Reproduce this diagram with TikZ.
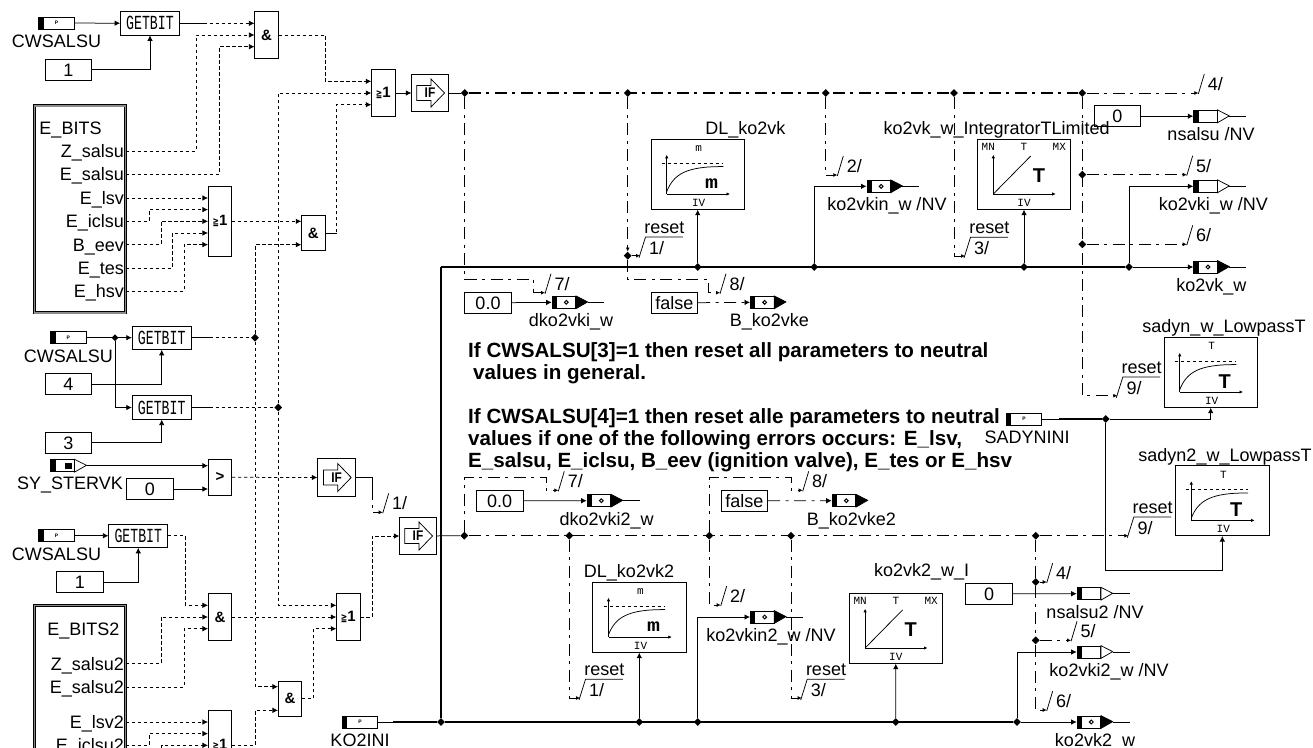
\documentclass[tikz,border=0pt]{standalone}
\usepackage{fontspec}
\usepackage{graphicx}
\usepackage{xcolor}
\usepackage{tikz}
\usetikzlibrary{shapes.geometric, arrows.meta, positioning}
\setmainfont{Liberation Sans}
\setmonofont{Liberation Mono}
\newfontfamily\symfont{DejaVu Sans}

% text in the small block labels
\newcommand{\gbtxt}{\scalebox{.66}[1]{\fontsize{20}{20}\selectfont\ttfamily GETBIT}}
\newcommand{\getxt}{{\symfont\bfseries\scalebox{.7}[1]{\fontsize{11}{11}\selectfont ≧}}{\fontsize{15}{15}\selectfont 1}}
\newcommand{\vfont}{\fontsize{11}{11}\selectfont\ttfamily}
\newcommand{\bigmm}{\scalebox{1.2}[1]{\fontsize{18}{18}\selectfont\ttfamily\bfseries m}}
\newcommand{\bigtt}{\fontsize{20}{20}\selectfont\bfseries T}

% input message with its name below
\newcommand{\inmsg}[5][0pt]{
  \node[par] (#2) at (#3,#4) {\fontsize{5}{5}\selectfont\bfseries P};
  \node[lbl, below=5pt of #2, xshift=#1] (#2l) {#5};
}
% output message: fill, tail length, name, x, y, label, label x
\newcommand{\outmsg}[7]{
  \node[out#1] (#3) at (#4,#5) {};
  \filldraw[wire, fill=#1] (#3.north east) -- ++(11.7,6) -- (#3.south east) -- cycle;
  \draw[wire] (#3.east) ++(11.7,0) -- ++(#2,0);
  \node[lbl] (#3l) at (#7,#5+18) {#6};
}
% IF block
\newcommand{\ifblk}[4][36.6]{
  \node[draw, wire, minimum size=#1, inner sep=0] (#2) at (#3,#4) {};
  \draw[wire] (#2.center) ++(-13.3,-7.5) -- ++(14.3,0) -- ++(0,-6.5) -- ++(13.5,14) -- ++(-13.5,14) -- ++(0,-6.5) -- ++(-14.3,0) -- cycle;
  \node[font=\bfseries\fontsize{14}{14}\selectfont, inner sep=0] (#2t) at (#2.center) {\scalebox{.85}[1]{IF}};
}
% bus mark ending a signal: name, x, y, number
\newcommand{\brk}[4]{
  \coordinate (#1) at (#2,#3);
  \draw[wire] (#1) ++(0,1) -- ++(6,-20);
  \node[lbl] (#1l) at (#2+17,#3-9) {#4/};
}
% the same with the reset text
\newcommand{\rbrk}[4]{
  \coordinate (#1) at (#2,#3);
  \draw[wire] (#1) ++(-1,2) -- ++(6.5,-20.7) -- ++(37.3,0);
  \node[lbl] (#1r) at (#2+24.3,#3-28.7) {reset};
  \node[lbl] (#1l) at (#2+16.7,#3-7.7) {#4/};
}
% lowpass block: name, x, y, top, big, title, title x
\newcommand{\lowblk}[7]{
  \node[blk] (#1) at (#2,#3) {};
  \node[lbl] (#1n) at (#7,#3-46) {#6};
  \begin{scope}[shift={(#1.center)}]
    \draw[wire, -{Latex[length=3.5pt,width=3.5pt]}] (-31,19.7) -- (-31,-19.5);
    \draw[wire, -{Latex[length=3.5pt,width=3.5pt]}] (-31,19.7) -- (32.3,19.7);
    \draw[wire, dashed] (-36,-11.3) -- (25.7,-11.3);
    \draw[wire] (-31,17.3) .. controls (-24,0) and (-12,-8) .. (25.7,-7.7);
    \node[inner sep=0, font=\vfont] (#1a) at (1,-26) {#4};
    \node[inner sep=0] (#1b) at (14,9) {#5};
    \node[inner sep=0, font=\vfont] (#1c) at (1,28.3) {IV};
  \end{scope}
}
% integrator block: name, x, y, title, title x, title y
\newcommand{\intblk}[6]{
  \node[blk] (#1) at (#2,#3) {};
  \node[lbl] (#1n) at (#5,#6) {#4};
  \begin{scope}[shift={(#1.center)}]
    \draw[wire, -{Latex[length=3.5pt,width=3.5pt]}] (-30.7,19.7) -- (-30.7,-19.5);
    \draw[wire, -{Latex[length=3.5pt,width=3.5pt]}] (-30.7,19.7) -- (31.7,19.7);
    \draw[wire] (-30.7,19.7) -- (6.7,-18.3);
    \node[inner sep=0, font=\vfont] (#1a) at (-35.7,-27.7) {MN};
    \node[inner sep=0, font=\vfont] (#1b) at (0,-27.7) {T};
    \node[inner sep=0, font=\vfont] (#1c) at (35.3,-27.7) {MX};
    \node[inner sep=0] (#1d) at (15,1.7) {\bigtt};
    \node[inner sep=0, font=\vfont] (#1e) at (0,28.3) {IV};
  \end{scope}
}

\begin{document}
\begin{tikzpicture}[
  x=1pt, y=-1pt, font=\fontsize{18}{22}\selectfont,
  wire/.style={line width=.75pt},
  arr/.style={wire, -{Latex[length=5.5pt,width=5.5pt]}},
  dsh/.style={arr, dash pattern=on 3.3pt off 2.7pt},
  dd/.style={wire, dash pattern=on 12pt off 5.5pt on 3pt off 5.5pt},
  dda/.style={dd, -{Latex[length=4pt,width=4pt]}},
  busd/.style={dd, line width=1.5pt},
  bus/.style={line width=1.7pt},
  lbl/.style={inner sep=0, text height=13pt, text depth=0pt},
  const/.style={draw, wire, inner sep=0, minimum width=46.7, minimum height=21, text height=13pt, text depth=0pt},
  gb/.style={draw, wire, inner sep=0, minimum width=59, minimum height=23.4},
  gate/.style={draw, wire, inner sep=0, minimum width=23.3, font=\bfseries\fontsize{15}{15}\selectfont},
  par/.style={draw, wire, inner sep=0, minimum width=35.5, minimum height=12,
    path picture={\fill (path picture bounding box.south west) rectangle ([xshift=5pt]path picture bounding box.north west);}},
  outwhite/.style={draw, wire, anchor=west, inner sep=0, minimum width=23.5, minimum height=12,
    path picture={\fill (path picture bounding box.south west) rectangle ([xshift=5pt]path picture bounding box.north west);}},
  outblack/.style={outwhite,
    path picture={\fill (path picture bounding box.south west) rectangle ([xshift=5pt]path picture bounding box.north west);
      \draw[line width=1pt] ([xshift=2.5pt]path picture bounding box.center) circle (1.9);}},
  blk/.style={draw, wire, inner sep=0, minimum width=93.3, minimum height=70},
  ebox/.style={draw, wire, double=black!45, double distance=1.4pt, inner sep=0, minimum width=91},
  jn/.style={diamond, fill=black, inner sep=0, minimum size=8},
  note/.style={inner sep=0, anchor=north west, align=left, font=\bfseries\fontsize{20.6}{22}\selectfont}]

  \clip (0,0) rectangle (1313,747);

  % first GETBIT row
  \inmsg{cwa}{56.5}{23}{CWSALSU}
  \node[gb] (gba) at (150,23.3) {\gbtxt};
  \node[const] (ca) at (68.3,69.8) {1};
  \node[gate, minimum height=46.6] (anda) at (266.5,35) {\&};
  \node[gate, minimum height=46.6] (gea) at (383.3,93) {\getxt};
  \ifblk{ifa}{430}{93}
  \draw[arr] (cwa) -- (gba);
  \draw[arr] (ca) -| (gba);
  \draw[dsh] (gba.east) -- ([yshift=11.7pt]anda.west);
  \draw[wire] (gba.east) -- ++(24,0);

  % error bits
  \node[ebox, minimum height=207] (ebits) at (80,209.3) {};
  \node[lbl] (ebt) at (70.5,128.3) {E\_BITS};
  \node[lbl, anchor=east] (zs) at (124,151) {Z\_salsu};
  \node[lbl, anchor=east] (es) at (124,174.3) {E\_salsu};
  \node[lbl, anchor=east] (el) at (124,198) {E\_lsv};
  \node[lbl, anchor=east] (ei) at (124,221.3) {E\_iclsu};
  \node[lbl, anchor=east] (be) at (124,244.7) {B\_eev};
  \node[lbl, anchor=east] (et) at (124,268) {E\_tes};
  \node[lbl, anchor=east] (eh) at (124,291) {E\_hsv};

  \node[gate, minimum height=70] (geb) at (220,221.3) {\getxt};
  \node[gate, minimum height=34.6] (andb) at (313.3,233) {\&};

  \draw[dsh] (ebits.east |- zs) -- ++(70,0) |- (anda.west);
  \draw[dsh] (ebits.east |- es) -- ++(93.3,0) |- ([yshift=-11.7pt]anda.west);
  \draw[dsh] (ebits.east |- el) -- ([yshift=23.3pt]geb.west);
  \draw[dsh] (ebits.east |- ei) -- ++(23.3,0) |- ([yshift=11.7pt]geb.west);
  \draw[dsh] (ebits.east |- be) -- ++(35,0) |- (geb.west);
  \draw[dsh] (ebits.east |- et) -- ++(46.6,0) |- ([yshift=-11.7pt]geb.west);
  \draw[dsh] (ebits.east |- eh) -- ++(58.3,0) |- ([yshift=-23.3pt]geb.west);
  \draw[dsh] (geb.east) -- ([yshift=11.7pt]andb.west);

  \draw[dsh] (anda.east) -- ++(46.7,0) |- ([yshift=11.7pt]gea.west);
  \draw[wire] (andb.east) -- ++(11.4,0);
  \draw[dsh] (andb.east) -- ++(11.4,0) |- ([yshift=-11.7pt]gea.west);
  \draw[arr] (gea) -- (ifa);

  % GETBIT pair and compare
  \inmsg{cwb}{68.3}{337.7}{CWSALSU}
  \node[jn, minimum size=7] (jcw) at (115,337.7) {};
  \node[gb] (gbb) at (161.7,337.7) {\gbtxt};
  \node[gb] (gbc) at (161.7,407.5) {\gbtxt};
  \node[const] (cb) at (68.3,384.2) {4};
  \node[const] (cc) at (68.3,442.5) {3};
  \node[jn] (jb) at (255,337.7) {};
  \node[jn] (jc) at (278.3,407.5) {};
  \draw[arr] (cwb) -- (gbb);
  \draw[arr] (jcw) |- (gbc);
  \draw[arr] (cb) -| (gbb);
  \draw[arr] (cc) -| (gbc);
  \draw[dsh, -] (gbb) -- (jb);
  \draw[dsh, -] (gbc) -- (jc);
  \draw[wire] (gbb.east) -- ++(20,0);
  \draw[wire] (gbc.east) -- ++(20,0);
  \draw[dsh] (jb) |- ([yshift=-11.7pt]andb.west);
  \draw[dsh] (jc) |- (gea.west);

  \node[par, minimum width=23.5] (syb) at (62.4,465.7) {};
  \filldraw[wire, fill=white] (syb.north east) -- ++(12,6) -- (syb.south east) -- cycle;
  \fill ([xshift=3pt,yshift=-3.5pt]syb.north) rectangle ([xshift=10pt,yshift=3.5pt]syb.south);
  \node[lbl] (sybl) at (70,482.7) {SY\_STERVK};
  \node[const] (cd) at (150,489) {0};
  \node[gate, minimum height=35.3] (gt) at (220,477.3) {>};
  \ifblk[38]{ifb}{336.7}{477.5}
  \draw[arr] (syb.east) ++(12,0) -- ([yshift=11.6pt]gt.west);
  \draw[arr] (cd) -- ([yshift=-11.7pt]gt.west);
  \draw[dsh] (gt) -- (ifb);

  % second channel
  \inmsg{cwc}{56.5}{535.7}{CWSALSU}
  \node[gb] (gbd) at (138.3,535.7) {\gbtxt};
  \node[const] (ce) at (80,582.2) {1};
  \node[gate, minimum height=46.6] (andc) at (220,617) {\&};
  \node[gate, minimum height=46.6] (gec) at (348.3,617) {\getxt};
  \node[gate, minimum height=35] (andd) at (290,698.8) {\&};
  \ifblk{ifc}{418}{536}
  \draw[arr] (cwc) -- (gbd);
  \draw[arr] (ce) -| (gbd);
  \draw[dsh] (gbd.east) -- ++(17.3,0) |- ([yshift=11.7pt]andc.west);
  \draw[dsh] (andc) -- (gec);
  \draw[dsh] (jc) |- ([yshift=11.7pt]gec.west);
  \draw[dsh] (jb) |- ([yshift=12.1pt]andd.west);
  \draw[dsh] (andd.east) -- ++(11.6,0) |- ([yshift=-11.7pt]gec.west);
  \draw[dsh] (gec.east) -- ++(11.7,0) |- (ifc.west);

  \node[ebox, minimum height=180] (ebitsb) at (80,695.3) {};
  \node[lbl] (ebtb) at (83.3,629.3) {E\_BITS2};
  \node[lbl, anchor=east] (zsb) at (124,663.7) {Z\_salsu2};
  \node[lbl, anchor=east] (esb) at (124,687) {E\_salsu2};
  \node[lbl, anchor=east] (elb) at (124,722) {E\_lsv2};
  \node[lbl, anchor=east] (eib) at (124,745.3) {E\_iclsu2};
  \node[gate, minimum height=70] (ged) at (220,745.3) {\getxt};
  \coordinate (belowb) at (161.7,760);
  \draw[dsh] (ebitsb.east |- zsb) -- ++(35,0) |- (andc.west);
  \draw[dsh] (ebitsb.east |- esb) -- ++(58.3,0) |- ([yshift=-11.7pt]andc.west);
  \draw[dsh] (ebitsb.east |- elb) -- ([yshift=23.3pt]ged.west);
  \draw[dsh] (ebitsb.east |- eib) -- ++(23.3,0) |- ([yshift=11.7pt]ged.west);
  \draw[dsh] (belowb) |- (ged.west);
  \draw[dsh] (ged.east) -- ++(23.3,0) |- ([yshift=-11.5pt]andd.west);

  \brk{tifb}{382.7}{512.3}{1}
  \draw[wire] (ifb.east) -- ++(16,0) -- ++(0,12);
  \draw[dda] (ifb.east) -- ++(16,0) |- (tifb);

  % lower and upper bus
  \inmsg{koi}{360}{722}{KO2INI}
  \node[jn] (jbus) at (441,722) {};
  \coordinate (busa) at (441,267);
  \draw[wire] (koi) -- (jbus);
  \draw[bus] ([xshift=15pt]koi.east) -- (jbus);
  \draw[bus] (jbus) -- (busa);
  \node[jn] (ja) at (697.7,267) {};
  \node[jn] (jd) at (814.3,267) {};
  \node[jn] (je) at (1024,267) {};
  \node[jn] (jf) at (1129,267) {};
  \draw[bus] (busa) -- (jf);

  % upper reset line
  \node[jn] (r1) at (464.7,93) {};
  \node[jn] (r2) at (627.7,93) {};
  \node[jn] (r3) at (825.7,93) {};
  \node[jn] (r4) at (954,93) {};
  \node[jn] (r5) at (1082.3,93) {};
  \node[jn] (r6) at (627.7,255.7) {};
  \node[jn] (r7) at (1082.3,174.7) {};
  \node[jn] (r8) at (1082.3,244.3) {};
  \draw[wire] (ifa) -- (r1);
  \draw[busd] (r1) -- (r5);

  \brk{t7}{545}{292.7}{7}
  \brk{t8}{720}{292.7}{8}
  \brk{t2}{837.3}{175}{2}
  \brk{t4}{1198.3}{93}{4}
  \brk{t5}{1186.7}{174.7}{5}
  \brk{t6}{1186.7}{244.3}{6}
  \rbrk{t1}{640}{255.7}{1}
  \rbrk{t3}{965}{256}{3}
  \rbrk{t9}{1117.3}{395.7}{9}
  \draw[dda] (r1) |- (533.3,279.3) |- (t7);
  \draw[dda] (r2) -- (r6);
  \draw[dda] (r6) -- (t1);
  \draw[dda] (r6) |- (708.3,279.3) |- (t8);
  \draw[dda] (r3) |- (t2);
  \draw[dda] (r4) |- (t3);
  \draw[dda] (r5) -- (t4);
  \draw[dda] (r5) |- (t9);
  \draw[dda] (r7) -- (t5);
  \draw[dda] (r8) -- (t6);

  % upper blocks and outputs
  \lowblk{dla}{697.7}{174.3}{m}{\bigmm}{DL\_ko2vk}{745.3}
  \intblk{inta}{1024}{174.3}{ko2vk\_w\_IntegratorTLimited}{996.7}{128.3}
  \draw[arr] (ja) -- (dla);
  \draw[arr] (je) -- (inta);

  \node[const] (cf) at (488,302.8) {0.0};
  \outmsg{black}{16}{da}{551.7}{302.3}{dko2vki\_w}{571}
  \draw[arr] (cf) -- (da);
  \node[const] (cg) at (674.3,302.8) {false};
  \outmsg{black}{0}{db}{750}{302.3}{B\_ko2vke}{769.3}
  \draw[dda, -{Latex[length=5.5pt,width=5.5pt]}] (cg) -- (db);
  \outmsg{black}{17}{dc}{866.5}{186.3}{ko2vkin\_w /NV}{887}
  \draw[arr] (jd) |- (dc);
  \node[const] (ch) at (1117.3,116.2) {0};
  \outmsg{white}{17}{dd}{1193.3}{116.3}{nsalsu /NV}{1211}
  \draw[arr] (ch.east) -- (dd.west |- ch.east);
  \outmsg{white}{17}{de}{1193.3}{186.3}{ko2vki\_w /NV}{1213.3}
  \draw[arr] (jf) |- (de);
  \outmsg{black}{17}{df}{1193.3}{267}{ko2vk\_w}{1211.3}
  \draw[arr] (jf) -- (df);

  % notes
  \node[note] (nta) at (468,342) {If CWSALSU[3]=1 then reset all parameters to neutral\\\hspace*{5pt}values in general.};
  \node[note] (ntb) at (468,408) {If CWSALSU[4]=1 then reset alle parameters to neutral\\values if one of the following errors occurs: E\_lsv,\\E\_salsu, E\_iclsu, B\_eev (ignition valve), E\_tes or E\_hsv};

  % sadyn blocks
  \inmsg[3pt]{sdi}{1024}{419}{SADYNINI}
  \node[jn] (js) at (1105.7,419) {};
  \lowblk{sda}{1210.7}{372.3}{T}{\bigtt}{sadyn\_w\_LowpassT}{1224}
  \lowblk{sdb}{1222.3}{500.7}{T}{\bigtt}{sadyn2\_w\_LowpassT}{1225}
  \draw[wire] (sdi) -- (js);
  \draw[bus] ([xshift=17pt]sdi.east) -- (js);
  \draw[arr] (js) -| (sda);
  \draw[arr] (js) |- (1222.3,570) -- (sdb);

  % lower reset line
  \node[jn] (s1) at (464.3,535.7) {};
  \node[jn] (s2) at (569.3,535.7) {};
  \node[jn] (s3) at (709.3,535.7) {};
  \node[jn] (s4) at (791,535.7) {};
  \node[jn] (s5) at (1035.7,535.7) {};
  \node[jn] (s6) at (1035.7,582) {};
  \node[jn] (s7) at (1035.7,640.3) {};
  \draw[wire] (ifc) -- (s1);
  \draw[busd] (s1) -- (s5);

  \brk{u7}{558.3}{490.3}{7}
  \brk{u8}{802.7}{490.3}{8}
  \brk{u2}{720.7}{605}{2}
  \brk{u4}{1046.7}{582}{4}
  \brk{u5}{1071}{640.3}{5}
  \brk{u6}{1046.7}{710}{6}
  \rbrk{u1}{580}{698}{1}
  \rbrk{u3}{801.7}{698}{3}
  \rbrk{u9}{1128.3}{535.7}{9}
  \draw[dda] (s1) |- (546,477) |- (u7);
  \draw[dda] (s3) |- (791,477) |- (u8);
  \draw[dda] (s2) |- (u1);
  \draw[dda] (s3) |- (u2);
  \draw[dda] (s4) |- (u3);
  \draw[dda] (s5) -- (u9);
  \draw[dd, line width=1.2pt] (s5) -- (s6);
  \draw[dda] (s6) -- (u4);
  \draw[dd] (s6) -- (s7);
  \draw[dda] (s7) -- (u5);
  \draw[dda] (s7) |- (u6);

  % lower blocks and outputs
  \node[jn] (ka) at (639.3,722) {};
  \node[jn] (kb) at (697.7,722) {};
  \node[jn] (kc) at (895.7,722) {};
  \node[jn] (kd) at (1017,722) {};
  \draw[bus] (jbus) -- (kd);
  \lowblk{dlb}{639.5}{617.3}{m}{\bigmm}{DL\_ko2vk2}{629}
  \intblk{intb}{895.8}{628.3}{ko2vk2\_w\_I}{921.7}{570}
  \draw[arr] (ka) -- (dlb.south -| ka);
  \draw[arr] (kc) -- (intb);

  \node[const] (ci) at (499.7,500.8) {0.0};
  \outmsg{black}{17}{ea}{586.7}{500.7}{dko2vki2\_w}{606.7}
  \draw[arr] (ci) -- (ea);
  \node[const] (cj) at (744.3,500.8) {false};
  \outmsg{black}{0}{eb}{831.7}{500.7}{B\_ko2vke2}{851.3}
  \draw[dda, -{Latex[length=5.5pt,width=5.5pt]}] (cj) -- (eb);
  \outmsg{black}{17}{ec}{750}{617}{ko2vkin2\_w /NV}{771}
  \draw[arr] (kb) |- (ec);
  \node[const] (ck) at (989,593.8) {0};
  \outmsg{white}{17}{ed}{1076.7}{593.7}{nsalsu2 /NV}{1095}
  \draw[arr] (ck) -- (ed);
  \outmsg{white}{17}{ee}{1076.7}{652}{ko2vki2\_w /NV}{1109}
  \draw[arr] (kd) |- (ee);
  \outmsg{black}{17}{ef}{1076.7}{722}{ko2vk2\_w}{1095}
  \draw[arr] (kd) -- (ef);
\end{tikzpicture}
\end{document}
